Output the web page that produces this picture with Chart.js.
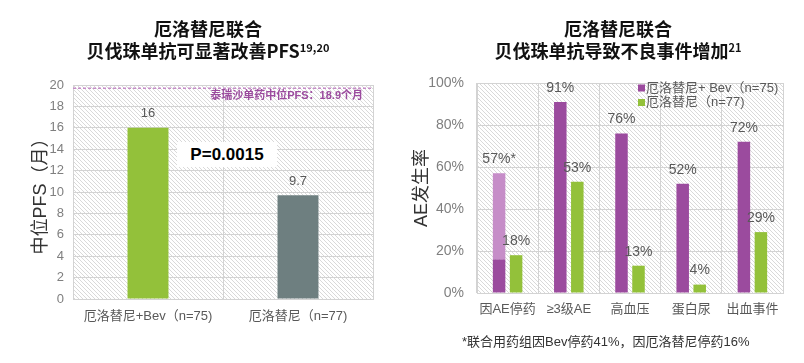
<!DOCTYPE html>
<html>
<head>
<meta charset="utf-8">
<script src="https://cdn.jsdelivr.net/npm/chart.js@4.4.1/dist/chart.umd.min.js"></script>
<style>
    body { margin: 0; background: #fff; }
    #wrap { position: relative; width: 804px; height: 363px; overflow: hidden; }
    .chart-title {
        position: absolute; top: 17px; width: 400px; text-align: center;
        font-family: "Noto Sans CJK SC", sans-serif; font-weight: 700;
        font-size: 18px; line-height: 22px; color: #111;
    }
    .chart-title sup { font-size: 11px; line-height: 0; vertical-align: 6px; }
    .p-box {
        position: absolute; left: 177px; top: 142px; width: 100px; height: 25px;
        background: #fff; text-align: center; line-height: 25px;
        font-family: "Liberation Sans", Arial, sans-serif; font-weight: 700; font-size: 17px; color: #000;
    }
    .footnote {
        position: absolute; left: 462px; top: 331px;
        font-family: "Liberation Sans", "Noto Sans CJK SC", sans-serif; font-size: 13px; color: #333;
    }
    canvas { position: absolute; top: 0; }
</style>
</head>
<body>
<div id="wrap">
    <canvas id="pfsChart" width="400" height="363" style="left:0"></canvas>
    <canvas id="aeChart" width="404" height="363" style="left:400px"></canvas>
    <div class="chart-title" style="left:8px">厄洛替尼联合<br>贝伐珠单抗可显著改善PFS<sup>19,20</sup></div>
    <div class="chart-title" style="left:418px">厄洛替尼联合<br>贝伐珠单抗导致不良事件增加<sup>21</sup></div>
    <div class="p-box">P=0.0015</div>
    <div class="footnote">*联合用药组因Bev停药41%，因厄洛替尼停药16%</div>
</div>

<script>
// PFS chart data
const pfsCategories = ['厄洛替尼+Bev（n=75)', '厄洛替尼（n=77)'];
const pfsValues = [16, 9.7];
const pfsLabels = ['16', '9.7'];
const osimertinibLine = 19.7;

// AE chart data
const aeCategories = ['因AE停药', '≥3级AE', '高血压', '蛋白尿', '出血事件'];
const comboBase = [16, 91, 76, 52, 72];
const comboExtra = [41, 0, 0, 0, 0];
const monoValues = [18, 53, 13, 4, 29];
const comboLabels = ['57%*', '91%', '76%', '52%', '72%'];
const monoLabels = ['18%', '53%', '13%', '4%', '29%'];

document.addEventListener('DOMContentLoaded', function() {
    const greenColor = '#93C13A';
    const grayBarColor = '#6E7F80';
    const purpleColor = '#9B4B9E';
    const lightPurple = '#C68DC8';
    const gridColor = '#d3d3d3';
    const latinFont = '"Liberation Sans", "Noto Sans CJK SC", sans-serif';

    // diagonal hatch used behind both plot areas
    const tile = document.createElement('canvas');
    tile.width = tile.height = 4;
    const g = tile.getContext('2d');
    g.strokeStyle = '#d9d9d9';
    g.lineWidth = 1;
    g.beginPath();
    g.moveTo(0, 0); g.lineTo(4, 4);
    g.moveTo(-1, 3); g.lineTo(1, 5);
    g.moveTo(3, -1); g.lineTo(5, 1);
    g.stroke();

    const hatchBackground = {
        id: 'hatchBackground',
        beforeDraw(chart) {
            const {ctx, chartArea: a} = chart;
            ctx.save();
            ctx.fillStyle = ctx.createPattern(tile, 'repeat');
            ctx.fillRect(a.left, a.top, a.right - a.left, a.bottom - a.top);
            ctx.restore();
        }
    };

    // value labels above bars
    const valueLabels = {
        id: 'valueLabels',
        afterDatasetsDraw(chart, args, opts) {
            const {ctx} = chart;
            const yScale = chart.scales.y;
            ctx.save();
            ctx.font = opts.font;
            ctx.fillStyle = '#595959';
            ctx.textAlign = 'center';
            ctx.textBaseline = 'middle';
            opts.items.forEach(item => {
                const meta = chart.getDatasetMeta(item.dataset);
                meta.data.forEach((bar, i) => {
                    const top = yScale.getPixelForValue(item.totals[i]);
                    ctx.fillText(item.labels[i], bar.x, top - 14);
                });
            });
            ctx.restore();
        }
    };

    // Median PFS chart
    const pfsCtx = document.getElementById('pfsChart');
    new Chart(pfsCtx, {
        type: 'bar',
        data: {
            labels: pfsCategories,
            datasets: [{
                data: pfsValues,
                backgroundColor: [greenColor, grayBarColor],
                borderWidth: 0,
                categoryPercentage: 1,
                barPercentage: 0.273
            }]
        },
        plugins: [hatchBackground, valueLabels, {
            id: 'referenceLine',
            beforeDatasetsDraw(chart) {
                const {ctx, chartArea: a} = chart;
                const y = chart.scales.y.getPixelForValue(osimertinibLine);
                ctx.save();
                ctx.strokeStyle = lightPurple;
                ctx.lineWidth = 1.5;
                ctx.setLineDash([3, 2]);
                ctx.beginPath();
                ctx.moveTo(a.left, y);
                ctx.lineTo(a.right, y);
                ctx.stroke();
                ctx.setLineDash([]);
                ctx.font = 'bold 11px ' + latinFont;
                ctx.fillStyle = purpleColor;
                ctx.textAlign = 'right';
                ctx.textBaseline = 'middle';
                ctx.fillText('泰瑞沙单药中位PFS：18.9个月', a.right - 10, y + 8);
                ctx.restore();
            }
        }],
        options: {
            responsive: false,
            animation: false,
            layout: { padding: { left: 26, top: 85, right: 27, bottom: 34 } },
            plugins: {
                legend: { display: false },
                tooltip: { enabled: false },
                valueLabels: {
                    font: '13px ' + latinFont,
                    items: [{ dataset: 0, totals: pfsValues, labels: pfsLabels }]
                }
            },
            scales: {
                x: {
                    afterFit: s => { s.height = 30; },
                    grid: { color: gridColor, drawTicks: false },
                    border: { color: gridColor },
                    ticks: { padding: 10, maxRotation: 0, color: '#595959', font: { size: 13, family: latinFont } }
                },
                y: {
                    min: 0,
                    max: 20,
                    afterFit: s => { s.width = 47; },
                    grid: { color: gridColor, drawTicks: false },
                    border: { display: false },
                    ticks: { stepSize: 2, padding: 9, color: '#7f7f7f', font: { size: 13, family: latinFont } },
                    title: {
                        display: true,
                        text: '中位PFS（月）',
                        color: '#333',
                        font: { size: 18, family: latinFont }
                    }
                }
            }
        }
    });

    // Adverse events chart
    const aeCtx = document.getElementById('aeChart');
    const comboTotals = comboBase.map((v, i) => v + comboExtra[i]);
    new Chart(aeCtx, {
        type: 'bar',
        data: {
            labels: aeCategories,
            datasets: [{
                label: '厄洛替尼+ Bev（n=75)',
                data: comboBase,
                backgroundColor: purpleColor,
                stack: 'combo'
            }, {
                label: 'Bev停药',
                data: comboExtra,
                backgroundColor: lightPurple,
                stack: 'combo'
            }, {
                label: '厄洛替尼（n=77)',
                data: monoValues,
                backgroundColor: greenColor,
                stack: 'mono'
            }]
        },
        plugins: [hatchBackground, valueLabels, {
            id: 'insideLegend',
            afterDraw(chart) {
                const {ctx, chartArea: a} = chart;
                const entries = [chart.data.datasets[0], chart.data.datasets[2]];
                ctx.save();
                ctx.font = '13px ' + latinFont;
                ctx.textAlign = 'left';
                ctx.textBaseline = 'middle';
                entries.forEach((ds, i) => {
                    const y = a.top + 5 + i * 14.5;
                    ctx.fillStyle = ds.backgroundColor;
                    ctx.fillRect(a.right - 145, y - 3.5, 7, 7);
                    ctx.fillStyle = '#595959';
                    ctx.fillText(ds.label, a.right - 137, y);
                });
                ctx.restore();
            }
        }],
        options: {
            responsive: false,
            animation: false,
            layout: { padding: { left: 7, top: 83, right: 21, bottom: 40 } },
            datasets: {
                bar: { categoryPercentage: 0.556, barPercentage: 0.735, borderWidth: 0 }
            },
            plugins: {
                legend: { display: false },
                tooltip: { enabled: false },
                valueLabels: {
                    font: '14px ' + latinFont,
                    items: [
                        { dataset: 0, totals: comboTotals, labels: comboLabels },
                        { dataset: 2, totals: monoValues, labels: monoLabels }
                    ]
                }
            },
            scales: {
                x: {
                    stacked: true,
                    afterFit: s => { s.height = 30; },
                    grid: { color: gridColor, drawTicks: false },
                    border: { color: gridColor },
                    ticks: {
                        padding: 9,
                        maxRotation: 0,
                        minRotation: 0,
                        autoSkip: false,
                        color: '#595959',
                        font: { size: 13, family: latinFont }
                    }
                },
                y: {
                    stacked: true,
                    min: 0,
                    max: 100,
                    afterFit: s => { s.width = 70; },
                    grid: { color: gridColor, drawTicks: false },
                    border: { color: gridColor },
                    ticks: {
                        stepSize: 20,
                        padding: 13,
                        color: '#7f7f7f',
                        font: { size: 14, family: latinFont },
                        callback: function(value) {
                            return value + '%';
                        }
                    },
                    title: {
                        display: true,
                        text: 'AE发生率',
                        color: '#333',
                        font: { size: 18, family: latinFont }
                    }
                }
            }
        }
    });
});
</script>
</body>
</html>
